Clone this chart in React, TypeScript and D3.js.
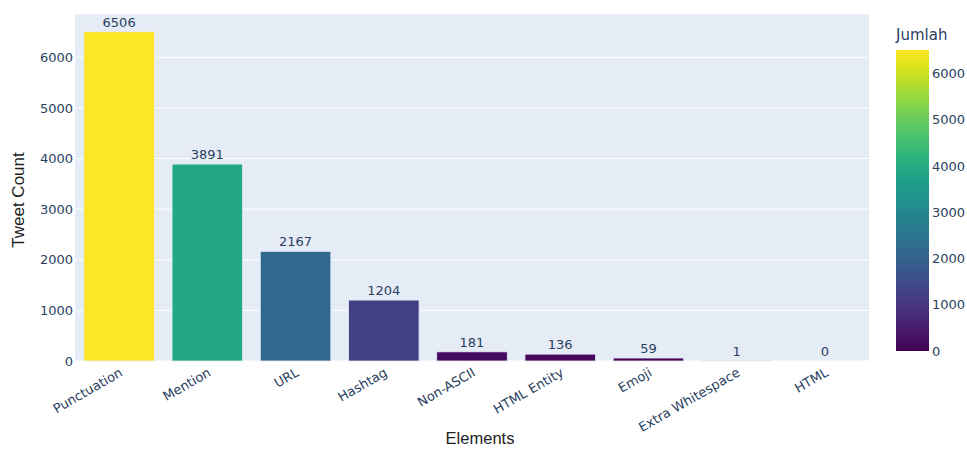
import React from "react";
import * as d3 from "d3";

// Counts of text elements found in the tweet corpus
const categories = [
  "Punctuation",
  "Mention",
  "URL",
  "Hashtag",
  "Non-ASCII",
  "HTML Entity",
  "Emoji",
  "Extra Whitespace",
  "HTML",
];
const counts = [6506, 3891, 2167, 1204, 181, 136, 59, 1, 0];
const yTicks = [0, 1000, 2000, 3000, 4000, 5000, 6000];
const colorbarTicks = [0, 1000, 2000, 3000, 4000, 5000, 6000];

const W = 967;
const H = 450;
const plot = { left: 75, right: 869, top: 14, bottom: 361 };
const cbar = { left: 896, right: 929, top: 50, bottom: 351 };

const tickFont = "'DejaVu Sans', Verdana, sans-serif";
const titleFont = "'Liberation Sans', Arial, sans-serif";
const tickColor = "#2a3f5f";

export default function App() {
  const maxCount = d3.max(counts) as number;

  const x = d3
    .scaleBand<string>()
    .domain(categories)
    .range([plot.left, plot.right])
    .paddingInner(0.2)
    .paddingOuter(0.1);

  const y = d3.scaleLinear().domain([0, 6856]).range([plot.bottom, plot.top]);

  const color = d3
    .scaleSequential(d3.interpolateViridis)
    .domain([0, maxCount]);

  const cbScale = d3
    .scaleLinear()
    .domain([0, maxCount])
    .range([cbar.bottom, cbar.top]);

  const gradStops = d3.range(0, 1.0001, 0.05);

  return (
    <svg
      width={W}
      height={H}
      style={{ position: "absolute", left: 0, top: 0, background: "#fff" }}
    >
      <defs>
        <linearGradient id="cbGrad" x1="0" y1="1" x2="0" y2="0">
          {gradStops.map((t) => (
            <stop
              key={t}
              offset={`${t * 100}%`}
              stopColor={d3.interpolateViridis(t)}
            />
          ))}
        </linearGradient>
      </defs>

      {/* plot background */}
      <rect
        x={plot.left}
        y={plot.top}
        width={plot.right - plot.left}
        height={plot.bottom - plot.top}
        fill="#E5ECF6"
      />

      {/* horizontal gridlines */}
      {yTicks.map((t) => (
        <line
          key={t}
          x1={plot.left}
          x2={plot.right}
          y1={y(t)}
          y2={y(t)}
          stroke="#fff"
          strokeWidth={1}
        />
      ))}

      {/* bars */}
      {categories.map((c, i) => {
        const v = counts[i];
        const top = y(v);
        return (
          <rect
            key={c}
            x={x(c)}
            y={top}
            width={x.bandwidth()}
            height={Math.max(0, plot.bottom - top)}
            fill={color(v)}
            stroke="#E5ECF6"
            strokeWidth={0.8}
          />
        );
      })}

      {/* value labels */}
      {categories.map((c, i) => (
        <text
          key={c}
          x={(x(c) as number) + x.bandwidth() / 2}
          y={y(counts[i]) - 5}
          textAnchor="middle"
          fontFamily={tickFont}
          fontSize={13}
          fill={tickColor}
        >
          {counts[i]}
        </text>
      ))}

      {/* y tick labels */}
      {yTicks.map((t) => (
        <text
          key={t}
          x={plot.left - 2}
          y={y(t)}
          dy="0.36em"
          textAnchor="end"
          fontFamily={tickFont}
          fontSize={13}
          fill={tickColor}
        >
          {t}
        </text>
      ))}

      {/* x tick labels */}
      {categories.map((c) => {
        const cx = (x(c) as number) + x.bandwidth() / 2;
        return (
          <text
            key={c}
            transform={`translate(${cx + 2},${plot.bottom + 10}) rotate(-30)`}
            textAnchor="end"
            dy="0.36em"
            fontFamily={tickFont}
            fontSize={13}
            fill={tickColor}
          >
            {c}
          </text>
        );
      })}

      {/* axis titles */}
      <text
        x={480}
        y={444}
        textAnchor="middle"
        fontFamily={titleFont}
        fontSize={16.5}
        fill="#222"
      >
        Elements
      </text>
      <text
        transform={`translate(24,200) rotate(-90)`}
        textAnchor="middle"
        fontFamily={titleFont}
        fontSize={17}
        fill="#222"
      >
        Tweet Count
      </text>

      {/* colorbar */}
      <text
        x={cbar.left}
        y={40}
        fontFamily={tickFont}
        fontSize={15}
        fill={tickColor}
      >
        Jumlah
      </text>
      <rect
        x={cbar.left}
        y={cbar.top}
        width={cbar.right - cbar.left}
        height={cbar.bottom - cbar.top}
        fill="url(#cbGrad)"
      />
      {colorbarTicks.map((t) => (
        <text
          key={t}
          x={cbar.right + 3}
          y={cbScale(t)}
          dy="0.36em"
          fontFamily={tickFont}
          fontSize={13}
          fill={tickColor}
        >
          {t}
        </text>
      ))}
    </svg>
  );
}
